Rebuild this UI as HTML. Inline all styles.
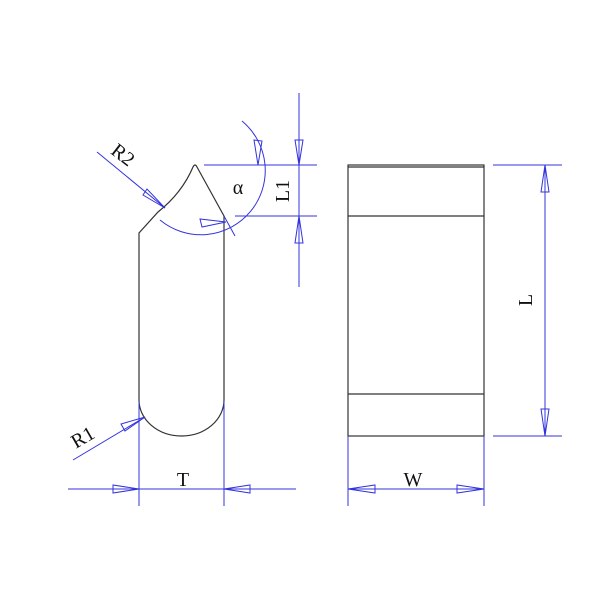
<!DOCTYPE html>
<html><head><style>body{margin:0;background:#fff}svg{display:block}</style></head><body>
<svg width="600" height="600" viewBox="0 0 600 600" xmlns="http://www.w3.org/2000/svg">
<rect width="600" height="600" fill="#fff"/>
<g fill="none" stroke="#333" stroke-width="1.2">
<path d="M139,400 L139,233 L158,212 Q182,193 193,167 Q195,163 197,167 L224,216 L224,400"/>
<path d="M139,400 A42.5,36 0 0 0 224,400"/>
<rect x="348" y="165" width="136" height="271"/>
<line x1="348" y1="167" x2="484" y2="167"/>
<line x1="348" y1="216" x2="484" y2="216"/>
<line x1="348" y1="394" x2="484" y2="394"/>
</g>
<g fill="none" stroke="#3333dd" stroke-width="1">
<line x1="224" y1="216" x2="235" y2="236"/>
<line x1="97" y1="152" x2="165" y2="208"/>
<path d="M242,121 A55,55 0 0 1 160,220"/>
<line x1="204" y1="165" x2="317" y2="165"/>
<line x1="235" y1="216" x2="317" y2="216"/>
<line x1="299" y1="93" x2="299" y2="287"/>
<line x1="73" y1="460" x2="145" y2="417"/>
<line x1="139" y1="402" x2="139" y2="506"/>
<line x1="224" y1="402" x2="224" y2="506"/>
<line x1="68" y1="489" x2="296" y2="489"/>
<line x1="493" y1="165" x2="562" y2="165"/>
<line x1="493" y1="436" x2="562" y2="436"/>
<line x1="545" y1="165" x2="545" y2="436"/>
<line x1="348" y1="436" x2="348" y2="506"/>
<line x1="484" y1="436" x2="484" y2="506"/>
<line x1="348" y1="489" x2="484" y2="489"/>
<polygon points="299,165 295,140 303,140"/>
<polygon points="299,216 295,243 303,243"/>
<polygon points="545,165 541,192 549,192"/>
<polygon points="545,436 541,409 549,409"/>
<polygon points="139,489 113,485 113,493"/>
<polygon points="224,489 250,485 250,493"/>
<polygon points="348,489 375,485 375,493"/>
<polygon points="484,489 457,485 457,493"/>
<polygon points="165,208 147,189 143,195"/>
<polygon points="145,417 121,424 125,431"/>
<polygon points="258,165 254,140 262,141"/>
<polygon points="226,222 200,219 202,227"/>
</g>
<g font-family="Liberation Serif, serif" font-size="20" fill="#111">
<text x="119" y="160" transform="rotate(38 119 160)" text-anchor="middle">R2</text>
<text x="86" y="443" transform="rotate(-30 86 443)" text-anchor="middle">R1</text>
<text x="238" y="194" text-anchor="middle">α</text>
<text x="289" y="191" transform="rotate(-90 289 191)" text-anchor="middle">L1</text>
<text x="183" y="486" text-anchor="middle">T</text>
<text x="413" y="486" text-anchor="middle">W</text>
<text x="532" y="300" transform="rotate(-90 532 300)" text-anchor="middle">L</text>
</g>
</svg>
</body></html>
